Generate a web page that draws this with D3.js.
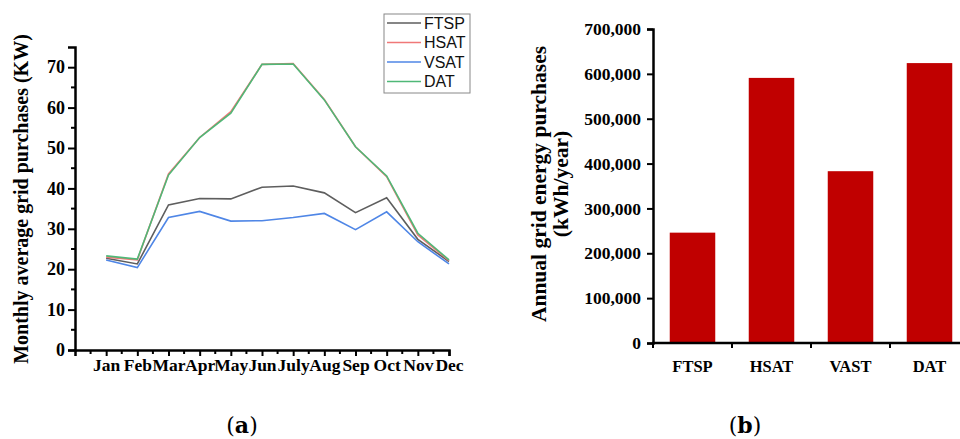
<!DOCTYPE html>
<html>
<head>
<meta charset="utf-8">
<script src="https://cdn.jsdelivr.net/npm/d3@7"></script>
<style>
  html, body { margin: 0; padding: 0; background: #fff; }
  svg { display: block; }
  .serif { font-family: "Liberation Serif", "Times New Roman", serif; font-weight: bold; fill: #000; }
</style>
</head>
<body>
<svg id="chart" width="960" height="439"></svg>
<script>
// Monthly average grid purchases (kW) per tracking system
const months = ["Jan","Feb","Mar","Apr","May","Jun","July","Aug","Sep","Oct","Nov","Dec"];
const ftsp = [22.7, 21.3, 35.9, 37.5, 37.4, 40.3, 40.6, 38.9, 34.0, 37.7, 27.4, 21.9];
const hsat = [23.0, 22.3, 43.6, 52.6, 59.0, 70.7, 70.9, 62.0, 50.3, 42.9, 28.5, 22.1];
const vsat = [22.3, 20.4, 32.8, 34.3, 31.9, 32.0, 32.8, 33.8, 29.8, 34.2, 26.8, 21.3];
const dat  = [23.3, 22.5, 43.3, 52.6, 58.6, 70.7, 70.8, 61.9, 50.3, 43.1, 28.9, 22.3];
const seriesNames  = ["FTSP", "HSAT", "VSAT", "DAT"];
const seriesColors = ["#5e5e5e", "#f07878", "#4f86e6", "#4fb877"];
const yTicksLeft = [0, 10, 20, 30, 40, 50, 60, 70];

// Annual grid energy purchases (kWh/year)
const systems = ["FTSP", "HSAT", "VAST", "DAT"];
const annual  = [246000, 591000, 383000, 624000];
const yTicksRight = [0, 100000, 200000, 300000, 400000, 500000, 600000, 700000];

const svg = d3.select("#chart");

// ---------- Panel (a): line chart ----------
const xL = d3.scaleLinear().domain([0, 12]).range([75, 449]);
const yL = d3.scaleLinear().domain([0, 75]).range([350, 47]);

const gA = svg.append("g");

// y axis with major ticks every 10 and minor every 5
const yAxisL = d3.axisLeft(yL).tickValues(yTicksLeft).tickSize(7).tickPadding(3).tickFormat(d3.format("d"));
const gy = gA.append("g").attr("transform", `translate(${xL(0)},0)`).call(yAxisL);
gy.selectAll(".tick line").attr("stroke-width", 2);
gy.append("g").selectAll("line")
  .data(d3.range(5, 75, 10))
  .join("line")
  .attr("x1", -4).attr("x2", 0)
  .attr("y1", d => yL(d)).attr("y2", d => yL(d))
  .attr("stroke", "#000").attr("stroke-width", 2);

// x axis: month ticks plus half-month minor ticks
const xAxisL = d3.axisBottom(xL).tickValues(d3.range(1, 13)).tickSize(6).tickPadding(3)
  .tickFormat(d => months[d - 1]);
const gx = gA.append("g").attr("transform", `translate(0,${yL(0)})`).call(xAxisL);
gx.selectAll(".tick line").attr("stroke-width", 2);
gx.append("g").selectAll("line")
  .data(d3.range(0.5, 12, 1))
  .join("line")
  .attr("x1", d => xL(d)).attr("x2", d => xL(d))
  .attr("y1", 0).attr("y2", 4)
  .attr("stroke", "#000").attr("stroke-width", 2);

[gy, gx].forEach(g => {
  g.select(".domain").attr("stroke-width", 2.5);
  g.selectAll("text").attr("class", "serif");
});
gy.selectAll("text").style("font-size", "18px");
gx.selectAll(".tick text").style("font-size", "17.5px").attr("dx", "0");

gA.append("text")
  .attr("class", "serif")
  .attr("transform", `translate(28,199) rotate(-90)`)
  .attr("text-anchor", "middle")
  .style("font-size", "20px")
  .text("Monthly average grid purchases (KW)");

// lines
const allSeries = [ftsp, hsat, vsat, dat];
const line = d3.line().x((d, i) => xL(i + 1)).y(d => yL(d));
allSeries.forEach((s, k) => {
  gA.append("path")
    .datum(s)
    .attr("fill", "none")
    .attr("stroke", seriesColors[k])
    .attr("stroke-width", 1.6)
    .attr("d", line);
});

// legend
const legend = gA.append("g").attr("transform", "translate(384,14)");
legend.append("rect")
  .attr("width", 86).attr("height", 79)
  .attr("fill", "#fff").attr("stroke", "#888").attr("stroke-width", 1);
seriesNames.forEach((name, k) => {
  const yy = 9 + k * 19.5;
  legend.append("line")
    .attr("x1", 3).attr("x2", 37).attr("y1", yy).attr("y2", yy)
    .attr("stroke", seriesColors[k]).attr("stroke-width", 1.6);
  legend.append("text")
    .attr("x", 40).attr("y", yy + 5.5)
    .style("font-family", "'Liberation Sans', Arial, sans-serif")
    .style("font-size", "16px")
    .attr("fill", "#111")
    .text(name);
});

// ---------- Panel (b): bar chart ----------
const xR = d3.scaleBand().domain(systems).range([653, 969]).paddingInner(0.424).paddingOuter(0.212);
const yR = d3.scaleLinear().domain([0, 700000]).range([343, 29]);

const gB = svg.append("g");

gB.selectAll("rect.bar")
  .data(annual)
  .join("rect")
  .attr("class", "bar")
  .attr("x", (d, i) => xR(systems[i]))
  .attr("width", xR.bandwidth())
  .attr("y", d => yR(d))
  .attr("height", d => yR(0) - yR(d))
  .attr("fill", "#c00000");

const yAxisR = d3.axisLeft(yR).tickValues(yTicksRight).tickSize(6).tickPadding(6).tickFormat(d3.format(","));
const gyR = gB.append("g").attr("transform", `translate(653,0)`).call(yAxisR);
gyR.selectAll(".tick line").attr("stroke-width", 2);
gyR.select(".domain").attr("stroke-width", 2.5);
gyR.selectAll("text").attr("class", "serif").style("font-size", "17.5px");

// x axis: line with ticks at category boundaries
const gxR = gB.append("g").attr("transform", `translate(0,${yR(0)})`);
gxR.append("line")
  .attr("x1", 652).attr("x2", 960).attr("y1", 0).attr("y2", 0)
  .attr("stroke", "#000").attr("stroke-width", 2.5);
gxR.selectAll("line.tk")
  .data(d3.range(0, systems.length))
  .join("line")
  .attr("class", "tk")
  .attr("x1", i => 653 + i * xR.step()).attr("x2", i => 653 + i * xR.step())
  .attr("y1", 0).attr("y2", 5)
  .attr("stroke", "#000").attr("stroke-width", 2);
gxR.selectAll("text")
  .data(systems)
  .join("text")
  .attr("class", "serif")
  .attr("x", d => xR(d) + xR.bandwidth() / 2)
  .attr("y", 29)
  .attr("text-anchor", "middle")
  .style("font-size", "16.5px")
  .text(d => d);

const titleR = gB.append("text")
  .attr("class", "serif")
  .attr("transform", `translate(546,184) rotate(-90)`)
  .attr("text-anchor", "middle")
  .style("font-size", "21.5px");
titleR.append("tspan").attr("x", 0).attr("dy", 0).text("Annual grid energy purchases");
titleR.append("tspan").attr("x", 0).attr("dy", 22).text("(kWh/year)");

// ---------- Panel captions ----------
const cap = [["a", 242], ["b", 745]];
cap.forEach(([letter, cx]) => {
  const t = svg.append("text")
    .attr("x", cx).attr("y", 433)
    .attr("text-anchor", "middle")
    .style("font-family", "'DejaVu Serif', 'Liberation Serif', serif")
    .style("font-size", "22px")
    .attr("fill", "#000");
  t.append("tspan").text("(");
  t.append("tspan").style("font-weight", "bold").text(letter);
  t.append("tspan").text(")");
});
</script>
</body>
</html>
